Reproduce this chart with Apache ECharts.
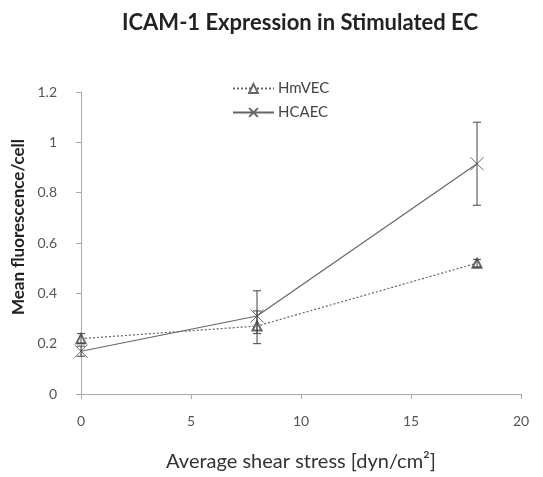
<!DOCTYPE html>
<html>
<head>
<meta charset="utf-8">
<script src="https://cdn.jsdelivr.net/npm/echarts@6/dist/echarts.min.js"></script>
<style>
html, body { margin: 0; padding: 0; background: #fff; }
#chart { width: 543px; height: 477px; }
</style>
</head>
<body>
<div id="chart"></div>
<script>
// shear stress values
var shear = [0, 8, 18];
// HmVEC mean + error bar ends
var hmvec = [0.22, 0.27, 0.52];
var hmvecLow = [0.20, 0.24, 0.505];
var hmvecHigh = [0.24, 0.33, 0.535];
// HCAEC mean + error bar ends
var hcaec = [0.17, 0.31, 0.915];
var hcaecLow = [0.15, 0.20, 0.75];
var hcaecHigh = [0.19, 0.41, 1.08];

var grey = '#666';
var font = 'Lato, sans-serif';

function pairs(xs, ys) {
    var res = [];
    for (var i = 0; i < xs.length; i++) res.push([xs[i], ys[i]]);
    return res;
}
function errs(xs, lo, hi) {
    var res = [];
    for (var i = 0; i < xs.length; i++) res.push([xs[i], lo[i], hi[i]]);
    return res;
}

// draws vertical error bar with caps
function errorBar(params, api) {
    var x = api.value(0);
    var lo = api.coord([x, api.value(1)]);
    var hi = api.coord([x, api.value(2)]);
    var w = 4;
    var st = { stroke: '#444', lineWidth: 1 };
    return {
        type: 'group',
        children: [
            { type: 'line', shape: { x1: lo[0], y1: lo[1], x2: hi[0], y2: hi[1] }, style: st },
            { type: 'line', shape: { x1: lo[0] - w, y1: lo[1], x2: lo[0] + w, y2: lo[1] }, style: st },
            { type: 'line', shape: { x1: hi[0] - w, y1: hi[1], x2: hi[0] + w, y2: hi[1] }, style: st }
        ]
    };
}

var mychart = echarts.init(document.getElementById('chart'));
var option = {
    animation: false,
    title: {
        text: 'ICAM-1 Expression in Stimulated EC',
        left: 295,
        textAlign: 'center',
        top: 7,
        textStyle: { fontFamily: font, fontSize: 22, fontWeight: 'bold', color: '#222' }
    },
    legend: {
        orient: 'vertical',
        left: 227,
        top: 76,
        itemGap: 9,
        itemWidth: 41,
        itemHeight: 11,
        textStyle: { fontFamily: font, fontSize: 15, color: '#444', padding: [0, 0, 0, -1] },
        data: ['HmVEC', 'HCAEC']
    },
    grid: { left: 81, right: 22, top: 92, bottom: 80 },
    xAxis: {
        type: 'value',
        min: 0,
        max: 20,
        interval: 5,
        name: 'Average shear stress [dyn/cm²]',
        nameLocation: 'middle',
        nameGap: 58,
        nameTextStyle: { fontFamily: font, fontSize: 20, color: '#333' },
        axisLine: { lineStyle: { color: '#aaa' } },
        axisTick: { show: true, length: 5, lineStyle: { color: '#aaa' } },
        axisLabel: { fontFamily: font, fontSize: 14, color: '#555', margin: 20 },
        splitLine: { show: false }
    },
    yAxis: {
        type: 'value',
        min: 0,
        max: 1.2,
        interval: 0.2,
        name: 'Mean fluorescence/cell',
        nameLocation: 'middle',
        nameGap: 53,
        nameTextStyle: { fontFamily: font, fontSize: 17, fontWeight: 'bold', color: '#222', padding: [0, 0, 0, 32] },
        axisLine: { show: true, lineStyle: { color: '#aaa' } },
        axisTick: { show: true, length: 5, lineStyle: { color: '#aaa' } },
        axisLabel: { fontFamily: font, fontSize: 14, color: '#555', margin: 24 },
        splitLine: { show: false }
    },
    series: [
        {
            name: 'HmVEC',
            type: 'line',
            data: pairs(shear, hmvec),
            symbol: 'emptyTriangle',
            symbolSize: 9,
            lineStyle: { color: grey, width: 1.2, type: [2, 2] },
            itemStyle: { color: grey, borderColor: grey, borderWidth: 1 }
        },
        {
            name: 'HCAEC',
            type: 'line',
            data: pairs(shear, hcaec),
            symbol: 'path://M0,0L10,10M10,0L0,10',
            symbolSize: 13,
            lineStyle: { color: grey, width: 1.2 },
            itemStyle: { color: grey, borderColor: grey, borderWidth: 1 }
        },
        {
            type: 'custom',
            renderItem: errorBar,
            data: errs(shear, hmvecLow, hmvecHigh),
            z: 5
        },
        {
            type: 'custom',
            renderItem: errorBar,
            data: errs(shear, hcaecLow, hcaecHigh),
            z: 5
        }
    ]
};
mychart.setOption(option);
</script>
</body>
</html>
